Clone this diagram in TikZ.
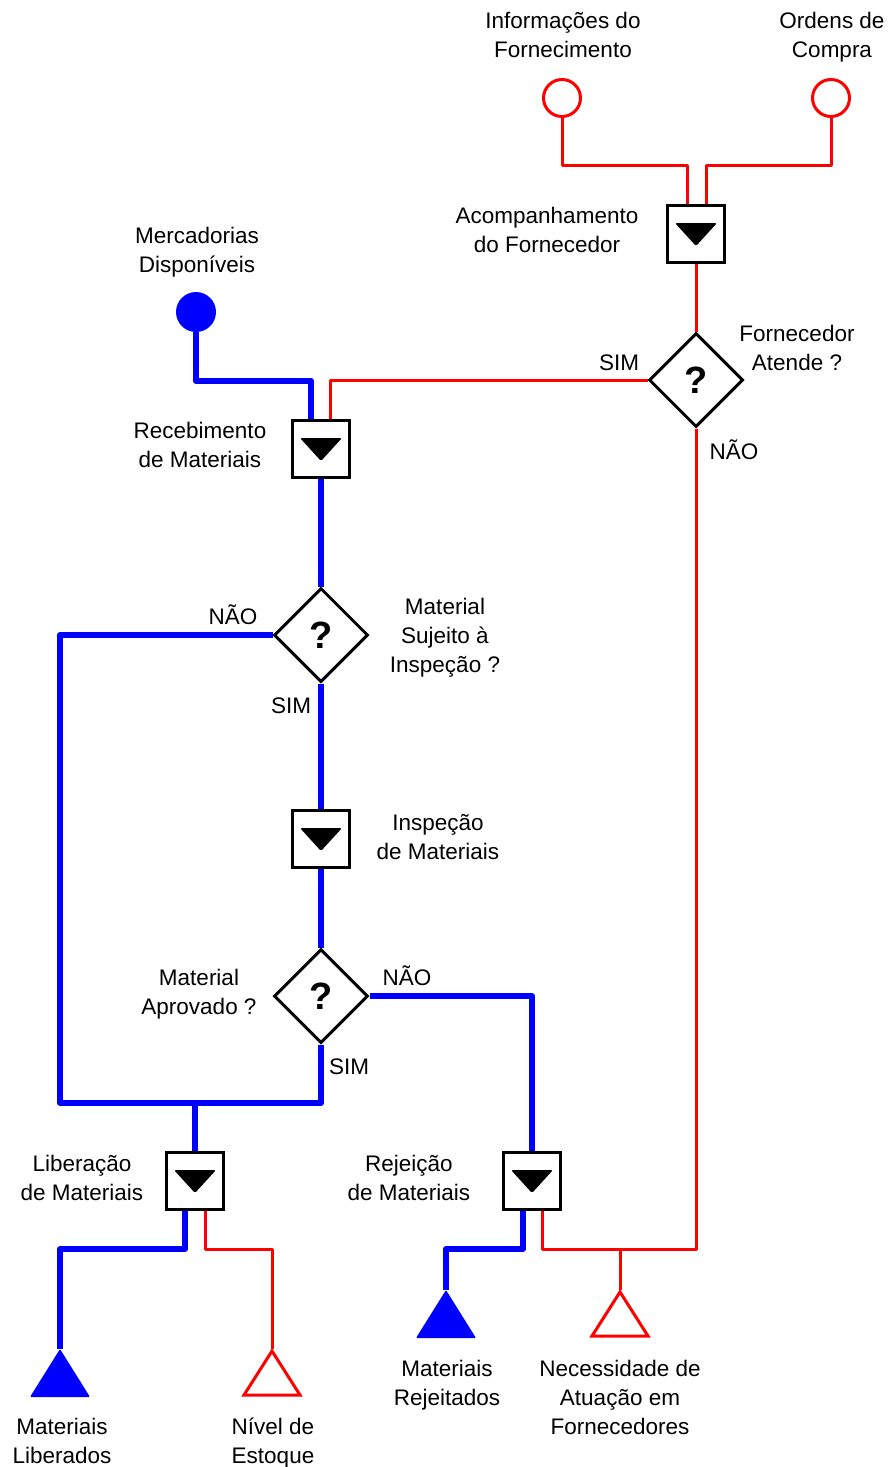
\documentclass[tikz,border=0pt]{standalone}
\usepackage{fontspec}
\setmainfont{Liberation Sans}
\usetikzlibrary{shapes.geometric,calc}
\begin{document}
\begin{tikzpicture}[x=1pt,y=-1pt,
  redl/.style={draw=red,line width=3pt,line join=round},
  bluel/.style={draw=blue,line width=6pt,line join=round},
  procbox/.style={draw=black,line width=3pt,fill=white,minimum size=57pt,inner sep=0pt,
    path picture={\fill[black,rounded corners=1.5pt] ($(path picture bounding box.center)+(-21,-11)$) -- ++(42,0) -- ++(-21,23) -- cycle;}},
  decision/.style={diamond,aspect=1,draw=black,line width=3pt,fill=white,minimum width=94pt,minimum height=94pt,inner sep=0pt,
    font=\fontsize{38}{38}\selectfont\bfseries},
  lbl/.style={font=\fontsize{22.5}{29}\selectfont,align=center,inner sep=0pt,anchor=base},
  redterm/.style={circle,draw=red,line width=3pt,fill=white,minimum size=37pt,inner sep=0pt},
  blueterm/.style={circle,fill=blue,minimum size=40pt,inner sep=0pt}
]
\useasboundingbox (0,0) rectangle (889,1467);
\fill[white] (0,0) rectangle (889,1467);

% level coordinates
\coordinate (yA) at (0,165);
\coordinate (yB) at (0,1249);
\coordinate (yC) at (0,381);
\coordinate (yD) at (0,1103);
\coordinate (xL) at (60,0);

% nodes
\node[redterm] (infoC) at (562,98) {};
\node[redterm] (ordC) at (831,98) {};
\node[procbox] (acomp) at (696,234) {};
\node[decision] (dec1) at (696,380) {?};
\node[blueterm] (merc) at (196,312) {};
\node[procbox] (receb) at (321,449) {};
\node[decision] (dec2) at (321,635) {?};
\node[procbox] (insp) at (321,839) {};
\node[decision] (dec3) at (321,996) {?};
\node[procbox] (liber) at (195,1181) {};
\node[procbox] (rejei) at (532,1181) {};
\coordinate (tLib) at (60,1349);
\coordinate (tNiv) at (272,1349);
\coordinate (tRej) at (446,1290);
\coordinate (tNec) at (620,1290);

% red connectors
\draw[redl] (infoC.south) -- (infoC.south |- yA) -| ([xshift=-9pt]acomp.north);
\draw[redl] (ordC.south) -- (ordC.south |- yA) -| ([xshift=10pt]acomp.north);
\draw[redl] (acomp.south) -- (dec1.north);
\draw[redl] (dec1.west) -| ([xshift=9pt]receb.north);
\draw[redl] (dec1.south) -- (dec1.south |- yB) -| ([xshift=10pt]rejei.south);
\draw[redl] (tNec) -- (tNec |- yB);
\draw[redl] ([xshift=10pt]liber.south) -- ([xshift=10pt]liber.south |- yB) -| (tNiv);

% blue connectors
\draw[bluel] (merc.south) -- (merc.south |- yC) -| ([xshift=-10pt]receb.north);
\draw[bluel] (receb.south) -- (dec2.north);
\draw[bluel] (dec2.south) -- (insp.north);
\draw[bluel] (insp.south) -- (dec3.north);
\draw[bluel] (dec2.west) -| (xL |- yD) -| (dec3.south);
\draw[bluel] (liber.north) -- (liber.north |- yD);
\draw[bluel] (dec3.east) -| (rejei.north);
\draw[bluel] ([xshift=-10pt]liber.south) -- ([xshift=-10pt]liber.south |- yB) -| (tLib);
\draw[bluel] ([xshift=-9pt]rejei.south) -- ([xshift=-9pt]rejei.south |- yB) -| (tRej);

% terminal triangles
\fill[blue,rounded corners=1pt] (tLib) -- ++(30,48) -- ++(-60,0) -- cycle;
\fill[blue,rounded corners=1pt] (tRej) -- ++(30,48) -- ++(-60,0) -- cycle;
\draw[red,line width=3pt,fill=white] ($(tNiv)+(0,2)$) -- ++(28,44) -- ++(-56,0) -- cycle;
\draw[red,line width=3pt,fill=white] ($(tNec)+(0,2)$) -- ++(28,44) -- ++(-56,0) -- cycle;

% labels (anchor = baseline of last line)
\node[lbl] (l1) at (563,57) {Informações do\\Fornecimento};
\node[lbl] (l2) at (832,57) {Ordens de\\Compra};
\node[lbl] (l3) at (547,252) {Acompanhamento\\do Fornecedor};
\node[lbl] (l4) at (197,272) {Mercadorias\\Disponíveis};
\node[lbl] (l5) at (797,370) {Fornecedor\\Atende ?};
\node[lbl] (l6) at (619,370) {SIM};
\node[lbl] (l7) at (734,459) {NÃO};
\node[lbl] (l8) at (200,467) {Recebimento\\de Materiais};
\node[lbl] (l9) at (233,624) {NÃO};
\node[lbl] (l10) at (445,672) {Material\\Sujeito à\\Inspeção ?};
\node[lbl] (l11) at (291,713) {SIM};
\node[lbl] (l12) at (438,859) {Inspeção\\de Materiais};
\node[lbl] (l13) at (199,1014) {Material\\Aprovado ?};
\node[lbl] (l14) at (407,985) {NÃO};
\node[lbl] (l15) at (349,1074) {SIM};
\node[lbl] (l16) at (82,1200) {Liberação\\de Materiais};
\node[lbl] (l17) at (409,1200) {Rejeição\\de Materiais};
\node[lbl] (l18) at (447,1405) {Materiais\\Rejeitados};
\node[lbl] (l19) at (620,1434) {Necessidade de\\Atuação em\\Fornecedores};
\node[lbl] (l20) at (62,1463) {Materiais\\Liberados};
\node[lbl] (l21) at (273,1463) {Nível de\\Estoque};
\end{tikzpicture}
\end{document}
